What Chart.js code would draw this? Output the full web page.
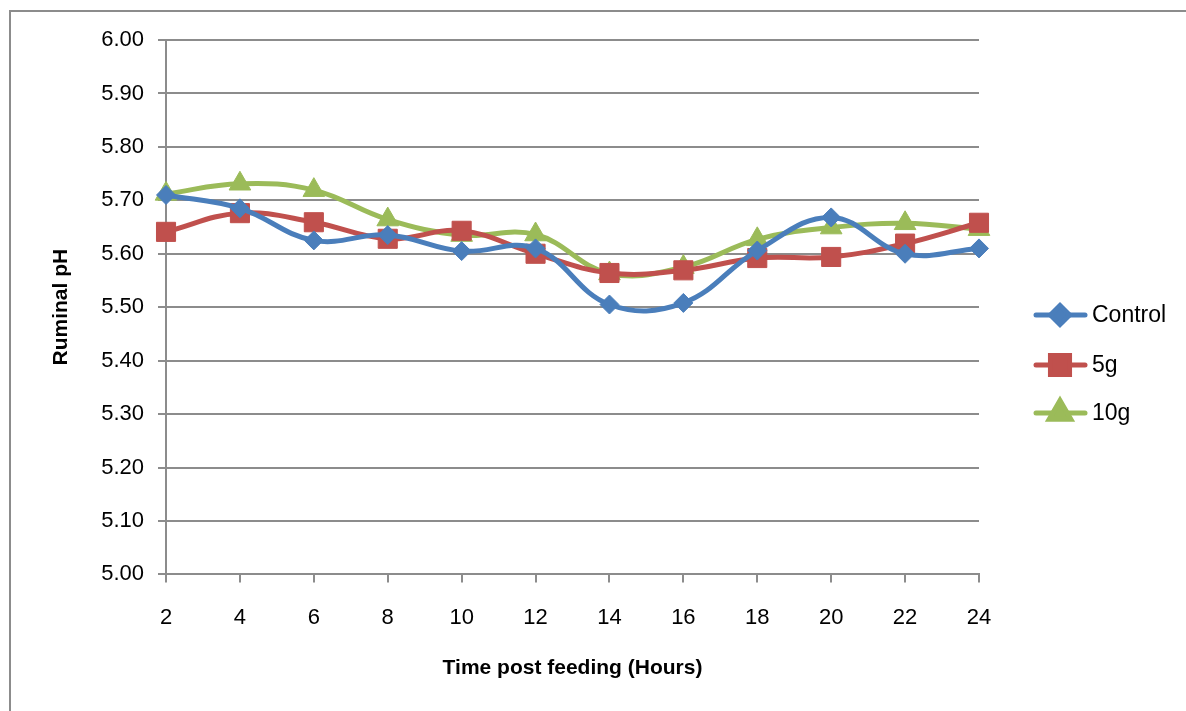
<!DOCTYPE html>
<html>
<head>
<meta charset="utf-8">
<script src="https://cdn.jsdelivr.net/npm/chart.js@4/dist/chart.umd.min.js"></script>
<style>
  html, body { margin: 0; padding: 0; background: #fff; }
  #wrap { position: relative; width: 1186px; height: 711px; overflow: hidden; }
  #frame { position: absolute; left: 9px; top: 10px; width: 1300px; height: 800px; border: 2px solid #8c8c8c; }
  #myChart { position: absolute; left: 0; top: 0; }
</style>
</head>
<body>
<div id="wrap">
  <div id="frame"></div>
  <canvas id="myChart" width="1186" height="711"></canvas>
</div>
<script>
var hours = ['2', '4', '6', '8', '10', '12', '14', '16', '18', '20', '22', '24'];
var control = [5.71, 5.685, 5.625, 5.635, 5.605, 5.61, 5.505, 5.508, 5.606, 5.668, 5.60, 5.61];
var fiveG = [5.641, 5.676, 5.659, 5.628, 5.643, 5.60, 5.564, 5.569, 5.592, 5.594, 5.619, 5.658];
var tenG = [5.712, 5.731, 5.719, 5.664, 5.635, 5.636, 5.563, 5.575, 5.627, 5.649, 5.657, 5.646];

var font = "'Liberation Sans', 'DejaVu Sans', sans-serif";

// legend drawn by hand: Excel style line + marker
var lineLegend = {
  id: 'lineLegend',
  afterDraw: function(chart) {
    var c = chart.ctx;
    var ys = [315, 365, 413];
    chart.data.datasets.forEach(function(ds, i) {
      var y = ys[i];
      c.save();
      c.strokeStyle = ds.borderColor;
      c.lineWidth = 5;
      c.lineCap = 'round';
      c.beginPath();
      c.moveTo(1036, y);
      c.lineTo(1085, y);
      c.stroke();
      c.fillStyle = ds.backgroundColor;
      c.strokeStyle = ds.backgroundColor;
      Chart.helpers.drawPoint(c, { pointStyle: ds.pointStyle, radius: ds.pointRadius, rotation: 0, borderWidth: 1 }, 1060, y);
      c.fillStyle = '#000';
      c.font = "23px " + font;
      c.textBaseline = 'middle';
      c.fillText(ds.label, 1092, y + 1);
      c.restore();
    });
  }
};

var ctx = document.getElementById('myChart').getContext('2d');
var myChart = new Chart(ctx, {
  type: 'line',
  data: {
    labels: hours,
    datasets: [{
      data: control,
      label: "Control",
      borderColor: "#4a7ebb",
      backgroundColor: "#4a7ebb",
      borderWidth: 5,
      pointStyle: 'rectRot',
      pointRadius: 9.5,
      pointBorderWidth: 1,
      tension: 0.4
    }, {
      data: fiveG,
      label: "5g",
      borderColor: "#c0504d",
      backgroundColor: "#c0504d",
      borderWidth: 5,
      pointStyle: 'rect',
      pointRadius: 13.5,
      pointBorderWidth: 1,
      tension: 0.4
    }, {
      data: tenG,
      label: "10g",
      borderColor: "#9bbb59",
      backgroundColor: "#9bbb59",
      borderWidth: 5,
      pointStyle: 'triangle',
      pointRadius: 12.5,
      pointBorderWidth: 1,
      tension: 0.4
    }]
  },
  options: {
    responsive: false,
    animation: false,
    layout: { padding: { left: 49, right: 207, top: 40, bottom: 30 } },
    plugins: {
      legend: { display: false },
      tooltip: { enabled: false }
    },
    scales: {
      y: {
        min: 5,
        max: 6,
        ticks: {
          stepSize: 0.1,
          padding: 14,
          color: '#000',
          font: { size: 22, family: font },
          callback: function(v) { return v.toFixed(2); }
        },
        grid: { color: '#8c8c8c', lineWidth: 2, tickLength: 8 },
        border: { color: '#8c8c8c', width: 2 },
        title: {
          display: true,
          text: 'Ruminal pH',
          color: '#000',
          font: { size: 21, weight: 'bold', family: font },
          padding: { top: 0, bottom: 13 }
        }
      },
      x: {
        offset: false,
        ticks: {
          padding: 22,
          color: '#000',
          font: { size: 22, family: font }
        },
        grid: { drawOnChartArea: false, color: '#8c8c8c', lineWidth: 2, tickLength: 8 },
        border: { color: '#8c8c8c', width: 2 },
        title: {
          display: true,
          text: 'Time post feeding (Hours)',
          color: '#000',
          font: { size: 21, weight: 'bold', family: font },
          padding: { top: 3, bottom: 0 }
        }
      }
    }
  },
  plugins: [lineLegend]
});
</script>
</body>
</html>
